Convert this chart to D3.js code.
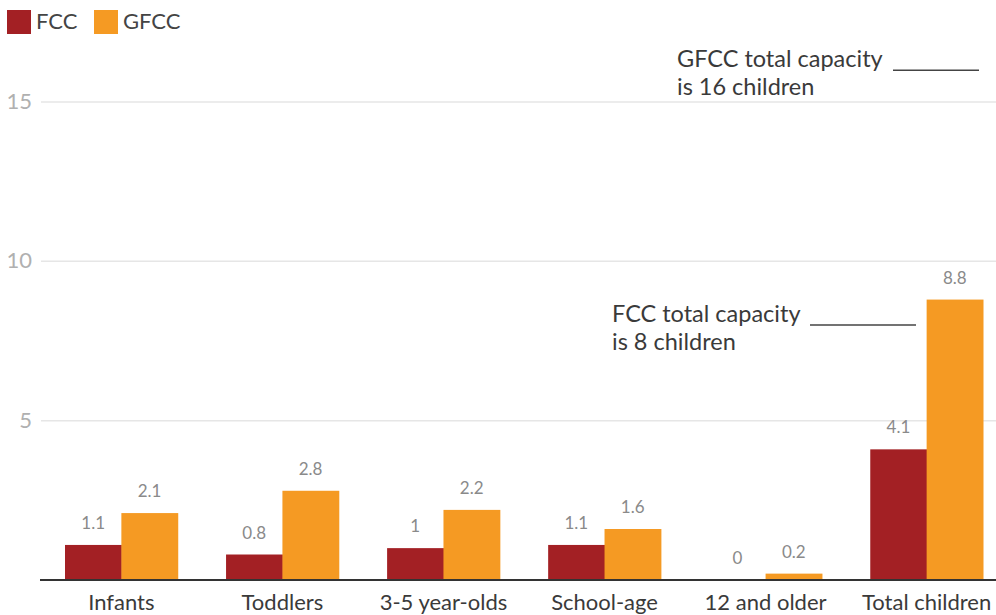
<!DOCTYPE html>
<html><head><meta charset="utf-8">
<script src="https://cdn.jsdelivr.net/npm/d3@7"></script>
<style>body{margin:0;background:#fff;} svg{display:block;font-family:Lato,"Open Sans",sans-serif;}</style>
</head><body><div id="chart"></div>
<script>
const categories = ["Infants","Toddlers","3-5 year-olds","School-age","12 and older","Total children"];
const seriesNames = ["FCC","GFCC"];
const fccValues = [1.1,0.8,1,1.1,0,4.1];
const gfccValues = [2.1,2.8,2.2,1.6,0.2,8.8];
const yTicks = [5,10,15];
const colors = ["#a32024","#f59a23"];
const annotations = [
  {value:16, lines:["GFCC total capacity","is 16 children"], tx:677, x1:893, x2:979},
  {value:8, lines:["FCC total capacity","is 8 children"], tx:612, x1:810, x2:916}
];

const W=996,H=615;
const svg=d3.select("#chart").append("svg").attr("width",W).attr("height",H);
const y=d3.scaleLinear().domain([0,15]).range([580,102]);
const x0=d3.scaleBand().domain(categories).range([65,983]).paddingInner(0.3).paddingOuter(0);
const x1=d3.scaleBand().domain(seriesNames).range([0,x0.bandwidth()]);

// gridlines
svg.append("g").selectAll("line").data(yTicks).join("line")
  .attr("x1",41).attr("x2",W).attr("y1",d=>y(d)).attr("y2",d=>y(d))
  .attr("stroke","#e6e6e6").attr("stroke-width",1.5);
svg.append("g").selectAll("text").data(yTicks).join("text")
  .attr("x",32).attr("y",d=>y(d)+7).attr("text-anchor","end")
  .attr("font-size",22).attr("fill","#b0b0b0").text(d=>d);

const data=categories.map((c,i)=>({cat:c,vals:[fccValues[i],gfccValues[i]]}));
const g=svg.append("g").selectAll("g").data(data).join("g").attr("transform",d=>`translate(${x0(d.cat)},0)`);
g.selectAll("rect").data(d=>d.vals.map((v,j)=>({v,s:seriesNames[j],j}))).join("rect")
  .attr("x",d=>x1(d.s)).attr("width",x1.bandwidth()+0.5)
  .attr("y",d=>y(d.v)).attr("height",d=>y(0)-y(d.v)).attr("fill",d=>colors[d.j]);
g.selectAll("text.val").data(d=>d.vals.map((v,j)=>({v,s:seriesNames[j]}))).join("text").attr("class","val")
  .attr("x",d=>x1(d.s)+x1.bandwidth()/2).attr("y",d=>y(d.v)-16).attr("text-anchor","middle")
  .attr("font-size",17).attr("fill","#8a8a8a").text(d=>d.v);

// baseline
svg.append("line").attr("x1",40).attr("x2",W).attr("y1",y(0)).attr("y2",y(0)).attr("stroke","#333").attr("stroke-width",2);

// category labels
svg.append("g").selectAll("text").data(categories).join("text")
  .attr("x",d=>x0(d)+x0.bandwidth()/2).attr("y",610).attr("text-anchor","middle")
  .attr("font-size",22).attr("fill","#3a3a3a").text(d=>d);

// annotations
annotations.forEach(a=>{
  const yy=y(a.value);
  svg.append("line").attr("x1",a.x1).attr("x2",a.x2).attr("y1",yy).attr("y2",yy).attr("stroke","#444").attr("stroke-width",1.5);
  const t=svg.append("text").attr("x",a.tx).attr("y",yy-3).attr("font-size",23.5).attr("fill","#3a3a3a");
  a.lines.forEach((l,i)=>t.append("tspan").attr("x",a.tx).attr("dy",i?28:0).text(l));
});

// legend
const lg=svg.append("g");
const legX=[7,94];
seriesNames.forEach((s,i)=>{
  lg.append("rect").attr("x",legX[i]).attr("y",10).attr("width",24).attr("height",24).attr("fill",colors[i]);
  lg.append("text").attr("x",legX[i]+29).attr("y",29).attr("font-size",22).attr("fill","#444").text(s);
});
</script></body></html>
